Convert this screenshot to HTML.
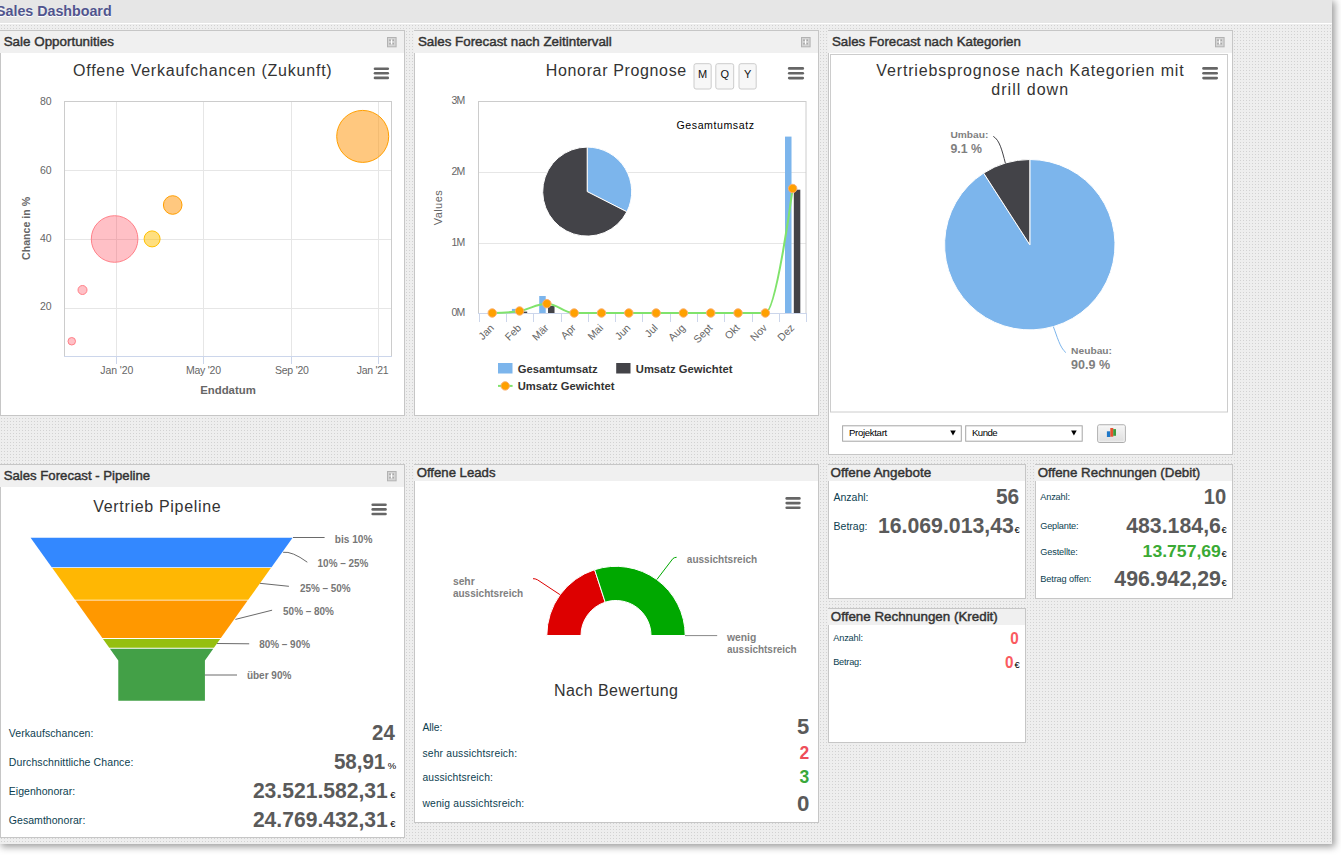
<!DOCTYPE html><html><head><meta charset="utf-8"><title>Sales Dashboard</title><style>
*{margin:0;padding:0;box-sizing:border-box}
html,body{width:1341px;height:859px;overflow:hidden;background:#fff;font-family:"Liberation Sans",sans-serif;}
#wrap{position:absolute;left:0;top:0;width:1332px;height:844px;
 background-color:#eeeeee;
 background-image:radial-gradient(circle at 1.5px 1.5px, #d2d2d2 0.75px, transparent 0.8px);
 background-size:3px 3px;
 box-shadow:2px 2px 7px 1px rgba(0,0,0,0.38);}
#band{position:absolute;left:0;top:0;width:1332px;height:24px;background:#e6e6e6;border-bottom:1px solid #fff}
.panel{position:absolute;background:#fff;border:1px solid #c6c6c6}
.ph{position:absolute;left:-1px;top:0;background:#f0f0f0}
.ico{position:absolute;width:10px;height:10px;border:1px solid #acacac;background:#d0d0d0}
.ico:after{content:"";position:absolute;left:3px;top:1px;width:2px;height:6px;background:#fff}
#ov{position:absolute;left:0;top:0;width:1341px;height:859px;overflow:visible}
</style></head><body><div id="wrap"><div id="band"></div><div class="panel" style="left:0px;top:30px;width:405px;height:386px"><div class="ph" style="width:404px;height:22px"></div></div><div class="panel" style="left:414px;top:30px;width:405px;height:386px"><div class="ph" style="width:404px;height:22px"></div></div><div class="panel" style="left:828px;top:30px;width:405px;height:425px"><div class="ph" style="width:404px;height:22px"></div></div><div class="panel" style="left:0px;top:464px;width:405px;height:374px"><div class="ph" style="width:404px;height:22px"></div></div><div class="panel" style="left:414px;top:464px;width:405px;height:359px"><div class="ph" style="width:404px;height:16px"></div></div><div class="panel" style="left:828px;top:464px;width:198px;height:135px"><div class="ph" style="width:197px;height:16px"></div></div><div class="panel" style="left:1035px;top:464px;width:198px;height:135px"><div class="ph" style="width:197px;height:16px"></div></div><div class="panel" style="left:828px;top:608px;width:198px;height:135px"><div class="ph" style="width:197px;height:16px"></div></div><svg id="ov" width="1341" height="859" font-family="Liberation Sans, sans-serif"><text x="-4.0" y="15.9" font-size="13.9" fill="#50548e" font-weight="bold" textLength="115.6" lengthAdjust="spacingAndGlyphs" style="text-shadow:0 1px 0 #fff">Sales Dashboard</text><rect x="387.5" y="37.5" width="8.6" height="9.3" fill="#d4d4d4" stroke="#b2b2b2"/><rect x="389.2" y="39.4" width="1.6" height="1.6" fill="#a9a9a9"/><rect x="389.2" y="42.9" width="1.6" height="1.6" fill="#a9a9a9"/><rect x="392.4" y="39.4" width="1.6" height="1.6" fill="#a9a9a9"/><rect x="392.4" y="42.9" width="1.6" height="1.6" fill="#a9a9a9"/><rect x="391.0" y="39.6" width="1.1" height="4.6" fill="#ffffff"/><rect x="801.5" y="37.5" width="8.6" height="9.3" fill="#d4d4d4" stroke="#b2b2b2"/><rect x="803.2" y="39.4" width="1.6" height="1.6" fill="#a9a9a9"/><rect x="803.2" y="42.9" width="1.6" height="1.6" fill="#a9a9a9"/><rect x="806.4" y="39.4" width="1.6" height="1.6" fill="#a9a9a9"/><rect x="806.4" y="42.9" width="1.6" height="1.6" fill="#a9a9a9"/><rect x="805.0" y="39.6" width="1.1" height="4.6" fill="#ffffff"/><rect x="1215.5" y="37.5" width="8.6" height="9.3" fill="#d4d4d4" stroke="#b2b2b2"/><rect x="1217.2" y="39.4" width="1.6" height="1.6" fill="#a9a9a9"/><rect x="1217.2" y="42.9" width="1.6" height="1.6" fill="#a9a9a9"/><rect x="1220.4" y="39.4" width="1.6" height="1.6" fill="#a9a9a9"/><rect x="1220.4" y="42.9" width="1.6" height="1.6" fill="#a9a9a9"/><rect x="1219.0" y="39.6" width="1.1" height="4.6" fill="#ffffff"/><rect x="387.5" y="471.5" width="8.6" height="9.3" fill="#d4d4d4" stroke="#b2b2b2"/><rect x="389.2" y="473.4" width="1.6" height="1.6" fill="#a9a9a9"/><rect x="389.2" y="476.9" width="1.6" height="1.6" fill="#a9a9a9"/><rect x="392.4" y="473.4" width="1.6" height="1.6" fill="#a9a9a9"/><rect x="392.4" y="476.9" width="1.6" height="1.6" fill="#a9a9a9"/><rect x="391.0" y="473.6" width="1.1" height="4.6" fill="#ffffff"/><text x="3.7" y="45.5" font-size="13.5" fill="#333" textLength="110.2" lengthAdjust="spacingAndGlyphs" stroke="#333" stroke-width="0.45">Sale Opportunities</text><text x="417.9" y="45.6" font-size="13.5" fill="#333" textLength="193.9" lengthAdjust="spacingAndGlyphs" stroke="#333" stroke-width="0.45">Sales Forecast nach Zeitintervall</text><text x="832" y="45.6" font-size="13.5" fill="#333" textLength="188.9" lengthAdjust="spacingAndGlyphs" stroke="#333" stroke-width="0.45">Sales Forecast nach Kategorien</text><text x="3.7" y="480" font-size="13.5" fill="#333" textLength="146.5" lengthAdjust="spacingAndGlyphs" stroke="#333" stroke-width="0.45">Sales Forecast - Pipeline</text><text x="416.7" y="477.1" font-size="13.5" fill="#333" textLength="78.8" lengthAdjust="spacingAndGlyphs" stroke="#333" stroke-width="0.45">Offene Leads</text><text x="830.6" y="476.5" font-size="13.5" fill="#333" textLength="100.5" lengthAdjust="spacingAndGlyphs" stroke="#333" stroke-width="0.45">Offene Angebote</text><text x="1037.7" y="476.5" font-size="13.5" fill="#333" textLength="162.6" lengthAdjust="spacingAndGlyphs" stroke="#333" stroke-width="0.45">Offene Rechnungen (Debit)</text><text x="830.8" y="620.9" font-size="13.5" fill="#333" textLength="167" lengthAdjust="spacingAndGlyphs" stroke="#333" stroke-width="0.45">Offene Rechnungen (Kredit)</text><line x1="64" y1="170.5" x2="391" y2="170.5" stroke="#e6e6e6" stroke-width="1" /><line x1="64" y1="239.5" x2="391" y2="239.5" stroke="#e6e6e6" stroke-width="1" /><line x1="64" y1="308.5" x2="391" y2="308.5" stroke="#e6e6e6" stroke-width="1" /><line x1="116.5" y1="101" x2="116.5" y2="356" stroke="#e6e6e6" stroke-width="1" /><line x1="116.5" y1="357" x2="116.5" y2="364" stroke="#ccd6eb" stroke-width="1" /><line x1="203.5" y1="101" x2="203.5" y2="356" stroke="#e6e6e6" stroke-width="1" /><line x1="203.5" y1="357" x2="203.5" y2="364" stroke="#ccd6eb" stroke-width="1" /><line x1="291.5" y1="101" x2="291.5" y2="356" stroke="#e6e6e6" stroke-width="1" /><line x1="291.5" y1="357" x2="291.5" y2="364" stroke="#ccd6eb" stroke-width="1" /><line x1="378.5" y1="101" x2="378.5" y2="356" stroke="#e6e6e6" stroke-width="1" /><line x1="378.5" y1="357" x2="378.5" y2="364" stroke="#ccd6eb" stroke-width="1" /><rect x="64.5" y="101.5" width="327" height="255" fill="none" stroke="#cccccc"/><line x1="64" y1="356.5" x2="392" y2="356.5" stroke="#ccd6eb" stroke-width="1" /><text x="51.5" y="104.5" font-size="10.5" fill="#666" text-anchor="end" textLength="11.5" lengthAdjust="spacing" >80</text><text x="51.5" y="173.60000000000002" font-size="10.5" fill="#666" text-anchor="end" textLength="11.5" lengthAdjust="spacing" >60</text><text x="51.5" y="241.60000000000002" font-size="10.5" fill="#666" text-anchor="end" textLength="11.5" lengthAdjust="spacing" >40</text><text x="51.5" y="310.2" font-size="10.5" fill="#666" text-anchor="end" textLength="11.5" lengthAdjust="spacing" >20</text><text x="116.8" y="374.2" font-size="10.5" fill="#666" text-anchor="middle" textLength="33" lengthAdjust="spacing" >Jan '20</text><text x="203.5" y="374.2" font-size="10.5" fill="#666" text-anchor="middle" textLength="35" lengthAdjust="spacing" >May '20</text><text x="291.9" y="374.2" font-size="10.5" fill="#666" text-anchor="middle" textLength="34" lengthAdjust="spacing" >Sep '20</text><text x="388.7" y="374.2" font-size="10.5" fill="#666" text-anchor="end" textLength="32" lengthAdjust="spacing" >Jan '21</text><text x="228" y="393.7" font-size="10.5" fill="#666" font-weight="bold" text-anchor="middle" textLength="55.6" lengthAdjust="spacingAndGlyphs" >Enddatum</text><text x="30.4" y="228.4" font-size="11.5" fill="#666" font-weight="bold" text-anchor="middle" textLength="63" lengthAdjust="spacingAndGlyphs" transform="rotate(-90 30.4 228.4)" >Chance in %</text><text x="73" y="76.1" font-size="16" fill="#333" textLength="258.7" lengthAdjust="spacing" >Offene Verkaufchancen (Zukunft)</text><line x1="375.0" y1="68.7" x2="387.8" y2="68.7" stroke="#666" stroke-width="2.6" stroke-linecap="round"/><line x1="375.0" y1="73.3" x2="387.8" y2="73.3" stroke="#666" stroke-width="2.6" stroke-linecap="round"/><line x1="375.0" y1="77.9" x2="387.8" y2="77.9" stroke="#666" stroke-width="2.6" stroke-linecap="round"/><circle cx="114.6" cy="239" r="23.3" fill="#ff3b4e" stroke="#ff8088" stroke-width="1" fill-opacity="0.32"/><circle cx="82.5" cy="290" r="4.5" fill="#ff3b4e" stroke="#ff8088" stroke-width="1" fill-opacity="0.32"/><circle cx="71.75" cy="341.25" r="3.75" fill="#ff3b4e" stroke="#ff8088" stroke-width="1" fill-opacity="0.32"/><circle cx="152.1" cy="238.9" r="8" fill="#ffc000" stroke="#ffc000" stroke-width="1" fill-opacity="0.5"/><circle cx="172.7" cy="205" r="9.3" fill="#ff9100" stroke="#ff9f00" stroke-width="1" fill-opacity="0.5"/><circle cx="362.7" cy="136.4" r="26" fill="#ff9100" stroke="#ff9f00" stroke-width="1" fill-opacity="0.5"/><text x="545.8" y="75.8" font-size="16" fill="#333" textLength="140.4" lengthAdjust="spacing" >Honorar Prognose</text><rect x="694.0" y="63.7" width="17.200000000000045" height="25.3" rx="2" fill="#f7f7f7" stroke="#cccccc"/><text x="702.6" y="77.9" font-size="11" fill="#111" text-anchor="middle" >M</text><rect x="715.8" y="63.7" width="17.90000000000009" height="25.3" rx="2" fill="#f7f7f7" stroke="#cccccc"/><text x="724.75" y="77.9" font-size="11" fill="#111" text-anchor="middle" >Q</text><rect x="739.0" y="63.7" width="17.200000000000045" height="25.3" rx="2" fill="#f7f7f7" stroke="#cccccc"/><text x="747.6" y="77.9" font-size="11" fill="#111" text-anchor="middle" >Y</text><line x1="789.2" y1="68.4" x2="802.8" y2="68.4" stroke="#666" stroke-width="2.6" stroke-linecap="round"/><line x1="789.2" y1="73.2" x2="802.8" y2="73.2" stroke="#666" stroke-width="2.6" stroke-linecap="round"/><line x1="789.2" y1="78.1" x2="802.8" y2="78.1" stroke="#666" stroke-width="2.6" stroke-linecap="round"/><line x1="478" y1="172.5" x2="806" y2="172.5" stroke="#e6e6e6" stroke-width="1" /><line x1="478" y1="243.5" x2="806" y2="243.5" stroke="#e6e6e6" stroke-width="1" /><rect x="478.5" y="101.5" width="327.5" height="212" fill="none" stroke="#cccccc"/><line x1="478" y1="313.5" x2="807" y2="313.5" stroke="#ccd6eb" stroke-width="1" /><line x1="479.5" y1="314" x2="479.5" y2="322" stroke="#ccd6eb" stroke-width="1" /><line x1="506.5" y1="314" x2="506.5" y2="322" stroke="#ccd6eb" stroke-width="1" /><line x1="533.5" y1="314" x2="533.5" y2="322" stroke="#ccd6eb" stroke-width="1" /><line x1="561.5" y1="314" x2="561.5" y2="322" stroke="#ccd6eb" stroke-width="1" /><line x1="588.5" y1="314" x2="588.5" y2="322" stroke="#ccd6eb" stroke-width="1" /><line x1="615.5" y1="314" x2="615.5" y2="322" stroke="#ccd6eb" stroke-width="1" /><line x1="642.5" y1="314" x2="642.5" y2="322" stroke="#ccd6eb" stroke-width="1" /><line x1="670.5" y1="314" x2="670.5" y2="322" stroke="#ccd6eb" stroke-width="1" /><line x1="697.5" y1="314" x2="697.5" y2="322" stroke="#ccd6eb" stroke-width="1" /><line x1="724.5" y1="314" x2="724.5" y2="322" stroke="#ccd6eb" stroke-width="1" /><line x1="752.5" y1="314" x2="752.5" y2="322" stroke="#ccd6eb" stroke-width="1" /><line x1="779.5" y1="314" x2="779.5" y2="322" stroke="#ccd6eb" stroke-width="1" /><line x1="806.5" y1="314" x2="806.5" y2="322" stroke="#ccd6eb" stroke-width="1" /><text x="465.3" y="104.3" font-size="10.5" fill="#666" text-anchor="end" textLength="13.7" lengthAdjust="spacing" >3M</text><text x="465.3" y="175.4" font-size="10.5" fill="#666" text-anchor="end" textLength="13.7" lengthAdjust="spacing" >2M</text><text x="465.3" y="245.7" font-size="10.5" fill="#666" text-anchor="end" textLength="13.7" lengthAdjust="spacing" >1M</text><text x="465.3" y="316.40000000000003" font-size="10.5" fill="#666" text-anchor="end" textLength="13.7" lengthAdjust="spacing" >0M</text><text x="442" y="207.8" font-size="11" fill="#666" text-anchor="middle" textLength="35" lengthAdjust="spacing" transform="rotate(-90 442 207.8)" >Values</text><path d="M587.20,191.60 L587.20,147.10 A44.5,44.5 0 0 1 626.85,211.80 Z" fill="#7cb5ec" stroke="#fff" stroke-width="1"/><path d="M587.20,191.60 L626.85,211.80 A44.5,44.5 0 1 1 587.20,147.10 Z" fill="#434348" stroke="#fff" stroke-width="1"/><text x="676.5" y="128.9" font-size="10.6" fill="#000" textLength="77.5" lengthAdjust="spacing" >Gesamtumsatz</text><rect x="511.91" y="308.9" width="6.5" height="4.100000000000023" fill="#7cb5ec" /><rect x="520.71" y="311.6" width="6.5" height="1.3999999999999773" fill="#434348" /><rect x="539.22" y="296" width="6.5" height="17" fill="#7cb5ec" /><rect x="548.02" y="306" width="6.5" height="7" fill="#434348" /><rect x="785.01" y="136.6" width="6.5" height="176.4" fill="#7cb5ec" /><rect x="793.81" y="189.7" width="6.5" height="123.30000000000001" fill="#434348" /><path d="M492.25,313.00 C492.25,313.00 508.64,312.86 519.57,311.00 C530.49,309.14 535.95,303.70 546.88,303.70 C557.80,303.70 563.26,313.00 574.19,313.00 C585.11,313.00 590.57,313.00 601.50,313.00 C612.42,313.00 617.88,313.00 628.81,313.00 C639.73,313.00 645.19,313.00 656.12,313.00 C667.04,313.00 672.50,313.00 683.42,313.00 C694.35,313.00 699.81,313.00 710.74,313.00 C721.66,313.00 727.12,313.00 738.05,313.00 C748.97,313.00 754.43,313.00 765.36,313.00 C776.28,313.00 792.66,188.50 792.66,188.50" fill="none" stroke="#80e36c" stroke-width="2"/><circle cx="492.255" cy="313" r="4.2" fill="#ffa000" stroke="#fcae6c" stroke-width="1" /><circle cx="519.565" cy="311" r="4.2" fill="#ffa000" stroke="#fcae6c" stroke-width="1" /><circle cx="546.875" cy="303.7" r="4.2" fill="#ffa000" stroke="#fcae6c" stroke-width="1" /><circle cx="574.1850000000001" cy="313" r="4.2" fill="#ffa000" stroke="#fcae6c" stroke-width="1" /><circle cx="601.495" cy="313" r="4.2" fill="#ffa000" stroke="#fcae6c" stroke-width="1" /><circle cx="628.8050000000001" cy="313" r="4.2" fill="#ffa000" stroke="#fcae6c" stroke-width="1" /><circle cx="656.115" cy="313" r="4.2" fill="#ffa000" stroke="#fcae6c" stroke-width="1" /><circle cx="683.425" cy="313" r="4.2" fill="#ffa000" stroke="#fcae6c" stroke-width="1" /><circle cx="710.735" cy="313" r="4.2" fill="#ffa000" stroke="#fcae6c" stroke-width="1" /><circle cx="738.0450000000001" cy="313" r="4.2" fill="#ffa000" stroke="#fcae6c" stroke-width="1" /><circle cx="765.355" cy="313" r="4.2" fill="#ffa000" stroke="#fcae6c" stroke-width="1" /><circle cx="792.665" cy="188.5" r="4.2" fill="#ffa000" stroke="#fcae6c" stroke-width="1" /><text x="494.655" y="328.5" font-size="10.5" fill="#666" text-anchor="end" transform="rotate(-45 494.655 328.5)" >Jan</text><text x="521.965" y="328.5" font-size="10.5" fill="#666" text-anchor="end" transform="rotate(-45 521.965 328.5)" >Feb</text><text x="549.275" y="328.5" font-size="10.5" fill="#666" text-anchor="end" transform="rotate(-45 549.275 328.5)" >Mär</text><text x="576.585" y="328.5" font-size="10.5" fill="#666" text-anchor="end" transform="rotate(-45 576.585 328.5)" >Apr</text><text x="603.895" y="328.5" font-size="10.5" fill="#666" text-anchor="end" transform="rotate(-45 603.895 328.5)" >Mai</text><text x="631.205" y="328.5" font-size="10.5" fill="#666" text-anchor="end" transform="rotate(-45 631.205 328.5)" >Jun</text><text x="658.515" y="328.5" font-size="10.5" fill="#666" text-anchor="end" transform="rotate(-45 658.515 328.5)" >Jul</text><text x="685.8249999999999" y="328.5" font-size="10.5" fill="#666" text-anchor="end" transform="rotate(-45 685.8249999999999 328.5)" >Aug</text><text x="713.135" y="328.5" font-size="10.5" fill="#666" text-anchor="end" transform="rotate(-45 713.135 328.5)" >Sept</text><text x="740.445" y="328.5" font-size="10.5" fill="#666" text-anchor="end" transform="rotate(-45 740.445 328.5)" >Okt</text><text x="767.755" y="328.5" font-size="10.5" fill="#666" text-anchor="end" transform="rotate(-45 767.755 328.5)" >Nov</text><text x="795.0649999999999" y="328.5" font-size="10.5" fill="#666" text-anchor="end" transform="rotate(-45 795.0649999999999 328.5)" >Dez</text><rect x="498" y="363" width="14.5" height="10.5" fill="#7cb5ec" /><text x="517.7" y="372.5" font-size="10.5" fill="#333" font-weight="bold" textLength="80" lengthAdjust="spacingAndGlyphs" >Gesamtumsatz</text><rect x="616.2" y="363" width="14.3" height="10.5" fill="#434348" /><text x="635.8" y="372.5" font-size="10.5" fill="#333" font-weight="bold" textLength="96.6" lengthAdjust="spacingAndGlyphs" >Umsatz Gewichtet</text><line x1="498" y1="385.9" x2="512.6" y2="385.9" stroke="#80e36c" stroke-width="2" /><circle cx="505.2" cy="385.9" r="4.2" fill="#ffa000" stroke="#fcae6c" stroke-width="1" /><text x="517.7" y="389.5" font-size="10.5" fill="#333" font-weight="bold" textLength="96.7" lengthAdjust="spacingAndGlyphs" >Umsatz Gewichtet</text><rect x="830.5" y="54.5" width="397" height="357.5" fill="none" stroke="#cccccc"/><text x="876.3" y="75.8" font-size="16" fill="#333" textLength="307.4" lengthAdjust="spacing" >Vertriebsprognose nach Kategorien mit</text><text x="991.3" y="94.9" font-size="16" fill="#333" textLength="76.8" lengthAdjust="spacing" >drill down</text><line x1="1203.5" y1="68.4" x2="1216.7" y2="68.4" stroke="#666" stroke-width="2.6" stroke-linecap="round"/><line x1="1203.5" y1="73.3" x2="1216.7" y2="73.3" stroke="#666" stroke-width="2.6" stroke-linecap="round"/><line x1="1203.5" y1="78.1" x2="1216.7" y2="78.1" stroke="#666" stroke-width="2.6" stroke-linecap="round"/><path d="M1029.80,244.70 L1029.80,159.50 A85.2,85.2 0 1 1 983.65,173.08 Z" fill="#7cb5ec" stroke="#fff" stroke-width="1"/><path d="M1029.80,244.70 L983.65,173.08 A85.2,85.2 0 0 1 1029.80,159.50 Z" fill="#434348" stroke="#fff" stroke-width="1"/><path d="M1005.4,163.3 C1002,150 999.5,140 993.3,136.4" fill="none" stroke="#434348" stroke-width="1"/><path d="M1053.3,326.6 C1057,336 1060,348 1065.9,352.6" fill="none" stroke="#7cb5ec" stroke-width="1"/><text x="950.4" y="137.8" font-size="9.9" fill="#7f7f7f" font-weight="bold" textLength="37.9" lengthAdjust="spacingAndGlyphs" >Umbau:</text><text x="950.4" y="152.9" font-size="12.2" fill="#7f7f7f" font-weight="bold" textLength="31.5" lengthAdjust="spacingAndGlyphs" >9.1 %</text><text x="1071.1" y="353.9" font-size="9.9" fill="#7f7f7f" font-weight="bold" textLength="40.9" lengthAdjust="spacingAndGlyphs" >Neubau:</text><text x="1071.1" y="368.9" font-size="12.2" fill="#7f7f7f" font-weight="bold" textLength="39.1" lengthAdjust="spacingAndGlyphs" >90.9 %</text><rect x="842.6" y="425.8" width="118.69999999999993" height="15.4" fill="#fff" stroke="#a6a6a6"/><text x="848.9" y="436" font-size="9.6" fill="#000" textLength="38.3" lengthAdjust="spacing" >Projektart</text><path d="M950.2,430.4 L955.8,430.4 L953.0,435.4 Z" fill="#000"/><rect x="965.7" y="425.8" width="116.5" height="15.4" fill="#fff" stroke="#a6a6a6"/><text x="972.0" y="436" font-size="9.6" fill="#000" textLength="25.6" lengthAdjust="spacing" >Kunde</text><path d="M1071.1000000000001,430.4 L1076.7,430.4 L1073.9,435.4 Z" fill="#000"/><defs><linearGradient id="bg1" x1="0" y1="0" x2="0" y2="1"><stop offset="0" stop-color="#f6f6f6"/><stop offset="1" stop-color="#dedede"/></linearGradient></defs><rect x="1097.8" y="424.9" width="27.4" height="17.4" rx="1.5" fill="url(#bg1)" stroke="#9a9a9a"/><rect x="1098.8" y="425.9" width="25.4" height="15.4" fill="none" stroke="#fafafa" stroke-width="0.8"/><rect x="1106.9" y="431.3" width="3.4" height="5.7" fill="#1f78c8" /><rect x="1110.3" y="428" width="3" height="8.7" fill="#e4532f" /><rect x="1113.2" y="429.1" width="2.8" height="6.7" fill="#3d9b3d" /><text x="93.2" y="511.5" font-size="16" fill="#333" textLength="127.5" lengthAdjust="spacing" >Vertrieb Pipeline</text><line x1="372.7" y1="504.8" x2="385.5" y2="504.8" stroke="#666" stroke-width="2.6" stroke-linecap="round"/><line x1="372.7" y1="509.4" x2="385.5" y2="509.4" stroke="#666" stroke-width="2.6" stroke-linecap="round"/><line x1="372.7" y1="514" x2="385.5" y2="514" stroke="#666" stroke-width="2.6" stroke-linecap="round"/><polygon points="30.60,537.7 292.60,537.7 271.52,567.2 51.68,567.2" fill="#3388ff"/><polygon points="52.32,568.1 270.88,568.1 248.22,599.8 74.98,599.8" fill="#ffb703"/><polygon points="75.55,600.6 247.65,600.6 220.85,638.1 102.35,638.1" fill="#ff9800"/><polygon points="102.99,639.0 220.21,639.0 213.92,647.8 109.28,647.8" fill="#95bf10"/><polygon points="109.92,648.7 213.28,648.7 204.92,660.4 204.92,700.7 118.28,700.7 118.28,660.4" fill="#43a047"/><line x1="293" y1="537.5" x2="324.6" y2="537.5" stroke="#6a6a6a" stroke-width="1" /><path d="M283.1,552.3 Q292,551 307.3,562.2" fill="none" stroke="#6a6a6a" stroke-width="1"/><line x1="259.9" y1="583.3" x2="288.9" y2="586.3" stroke="#6a6a6a" stroke-width="1" /><line x1="235.4" y1="619.4" x2="272.1" y2="610.2" stroke="#6a6a6a" stroke-width="1" /><line x1="217" y1="643.5" x2="249.2" y2="643.8" stroke="#6a6a6a" stroke-width="1" /><line x1="204.8" y1="675" x2="237" y2="675" stroke="#6a6a6a" stroke-width="1" /><text x="334.8" y="542.7" font-size="10" fill="#777" font-weight="bold" textLength="37.7" lengthAdjust="spacingAndGlyphs" >bis 10%</text><text x="317.6" y="566.5" font-size="10" fill="#777" font-weight="bold" textLength="50.8" lengthAdjust="spacingAndGlyphs" >10% – 25%</text><text x="299.9" y="591.6" font-size="10" fill="#777" font-weight="bold" textLength="50.8" lengthAdjust="spacingAndGlyphs" >25% – 50%</text><text x="283.1" y="615.4" font-size="10" fill="#777" font-weight="bold" textLength="50.8" lengthAdjust="spacingAndGlyphs" >50% – 80%</text><text x="259.2" y="648.4" font-size="10" fill="#777" font-weight="bold" textLength="50.8" lengthAdjust="spacingAndGlyphs" >80% – 90%</text><text x="246.9" y="679.4" font-size="10" fill="#777" font-weight="bold" textLength="44.5" lengthAdjust="spacingAndGlyphs" >über 90%</text><text x="8.8" y="736.7" font-size="10.5" fill="#0b3e50" textLength="84.6" lengthAdjust="spacing" >Verkaufschancen:</text><text x="8.8" y="765.6" font-size="10.5" fill="#0b3e50" textLength="124.5" lengthAdjust="spacing" >Durchschnittliche Chance:</text><text x="8.8" y="794.8" font-size="10.5" fill="#0b3e50" textLength="66.3" lengthAdjust="spacing" >Eigenhonorar:</text><text x="8.8" y="823.5" font-size="10.5" fill="#0b3e50" textLength="76.5" lengthAdjust="spacing" >Gesamthonorar:</text><text x="394.8" y="739.9" font-size="22" fill="#5a5a5a" font-weight="bold" text-anchor="end" textLength="22.7" lengthAdjust="spacingAndGlyphs" >24</text><text x="385.3" y="768.8" font-size="21.3" fill="#5a5a5a" font-weight="bold" text-anchor="end" textLength="51.4" lengthAdjust="spacingAndGlyphs" >58,91</text><text x="387.8" y="768.8" font-size="9.5" fill="#000" textLength="7.2" lengthAdjust="spacing" >%</text><text x="387.8" y="797.7" font-size="21.8" fill="#5a5a5a" font-weight="bold" text-anchor="end" textLength="134.9" lengthAdjust="spacingAndGlyphs" >23.521.582,31</text><text x="390.2" y="797.7" font-size="9.4" fill="#000" textLength="4.8" lengthAdjust="spacing" >€</text><text x="387.8" y="826.8" font-size="21.8" fill="#5a5a5a" font-weight="bold" text-anchor="end" textLength="134.9" lengthAdjust="spacingAndGlyphs" >24.769.432,31</text><text x="390.2" y="826.8" font-size="9.4" fill="#000" textLength="4.8" lengthAdjust="spacing" >€</text><line x1="786.7" y1="498.4" x2="799.4" y2="498.4" stroke="#666" stroke-width="2.6" stroke-linecap="round"/><line x1="786.7" y1="503.1" x2="799.4" y2="503.1" stroke="#666" stroke-width="2.6" stroke-linecap="round"/><line x1="786.7" y1="507.8" x2="799.4" y2="507.8" stroke="#666" stroke-width="2.6" stroke-linecap="round"/><path d="M546.80,635.50 A69.2,69.2 0 0 1 594.62,569.69 L605.18,602.21 A35,35 0 0 0 581.00,635.50 Z" fill="#dd0000" stroke="#fff" stroke-width="1"/><path d="M594.62,569.69 A69.2,69.2 0 0 1 685.20,635.50 L651.00,635.50 A35,35 0 0 0 605.18,602.21 Z" fill="#00a800" stroke="#fff" stroke-width="1"/><path d="M559.9,594.6 L537.5,579.8 Q535,578.5 533,578.7" fill="none" stroke="#dd0000" stroke-width="1"/><path d="M656.9,579.5 L672.9,558.6 Q674.5,557.3 676.6,557.3" fill="none" stroke="#00a800" stroke-width="1"/><line x1="685" y1="635.6" x2="717.2" y2="635.6" stroke="#888" stroke-width="1" /><text x="452.9" y="584.8" font-size="11" fill="#7f7f7f" font-weight="bold" textLength="21.8" lengthAdjust="spacingAndGlyphs" >sehr</text><text x="452.9" y="596.6" font-size="11" fill="#7f7f7f" font-weight="bold" textLength="70.3" lengthAdjust="spacingAndGlyphs" >aussichtsreich</text><text x="686.8" y="562.7" font-size="11" fill="#7f7f7f" font-weight="bold" textLength="70.4" lengthAdjust="spacingAndGlyphs" >aussichtsreich</text><text x="727" y="640.9" font-size="11" fill="#7f7f7f" font-weight="bold" textLength="29.3" lengthAdjust="spacingAndGlyphs" >wenig</text><text x="727" y="653.4" font-size="11" fill="#7f7f7f" font-weight="bold" textLength="69.7" lengthAdjust="spacingAndGlyphs" >aussichtsreich</text><text x="553.9" y="695.8" font-size="16" fill="#333" textLength="124.1" lengthAdjust="spacing" >Nach Bewertung</text><text x="422.4" y="730.6" font-size="10.3" fill="#0b3e50" textLength="20" lengthAdjust="spacing" >Alle:</text><text x="422.4" y="756.6" font-size="10.3" fill="#0b3e50" textLength="94.6" lengthAdjust="spacing" >sehr aussichtsreich:</text><text x="422.4" y="780.5" font-size="10.3" fill="#0b3e50" textLength="70.5" lengthAdjust="spacing" >aussichtsreich:</text><text x="422.4" y="807.2" font-size="10.3" fill="#0b3e50" textLength="101.8" lengthAdjust="spacing" >wenig aussichtsreich:</text><text x="809.3" y="733.6" font-size="22" fill="#5a5a5a" font-weight="bold" text-anchor="end" >5</text><text x="809.3" y="759.3" font-size="17.5" fill="#ee4e5a" font-weight="bold" text-anchor="end" >2</text><text x="809.3" y="782.7" font-size="17.5" fill="#3aa83a" font-weight="bold" text-anchor="end" >3</text><text x="809.3" y="810.9" font-size="22.3" fill="#5a5a5a" font-weight="bold" text-anchor="end" >0</text><text x="833.5" y="501.1" font-size="10.5" fill="#0b3e50" textLength="35" lengthAdjust="spacing" >Anzahl:</text><text x="1019.2" y="504.1" font-size="21.5" fill="#5a5a5a" font-weight="bold" text-anchor="end" textLength="23.2" lengthAdjust="spacingAndGlyphs" >56</text><text x="833.5" y="529.7" font-size="10.5" fill="#0b3e50" textLength="34" lengthAdjust="spacing" >Betrag:</text><text x="1013.9" y="533.2" font-size="22" fill="#5a5a5a" font-weight="bold" text-anchor="end" textLength="136" lengthAdjust="spacingAndGlyphs" >16.069.013,43</text><text x="1014.6" y="533.1" font-size="9.4" fill="#000" textLength="4.8" lengthAdjust="spacing" >€</text><text x="1040.2" y="500.2" font-size="9.2" fill="#0b3e50" textLength="29.8" lengthAdjust="spacing" >Anzahl:</text><text x="1226.2" y="504.1" font-size="21.5" fill="#5a5a5a" font-weight="bold" text-anchor="end" textLength="22.4" lengthAdjust="spacingAndGlyphs" >10</text><text x="1040.2" y="529" font-size="9.2" fill="#0b3e50" textLength="38.3" lengthAdjust="spacing" >Geplante:</text><text x="1220.9" y="533.2" font-size="22" fill="#5a5a5a" font-weight="bold" text-anchor="end" textLength="94.7" lengthAdjust="spacingAndGlyphs" >483.184,6</text><text x="1221.6" y="533.1" font-size="9.4" fill="#000" textLength="4.8" lengthAdjust="spacing" >€</text><text x="1040.2" y="555.1" font-size="9.2" fill="#0b3e50" textLength="37.6" lengthAdjust="spacing" >Gestellte:</text><text x="1220.9" y="557.3" font-size="16.6" fill="#3aaa35" font-weight="bold" text-anchor="end" textLength="78.3" lengthAdjust="spacingAndGlyphs" >13.757,69</text><text x="1221.6" y="557.2" font-size="9.4" fill="#000" textLength="4.8" lengthAdjust="spacing" >€</text><text x="1040.2" y="581.6" font-size="9.2" fill="#0b3e50" textLength="51" lengthAdjust="spacing" >Betrag offen:</text><text x="1220.9" y="585.7" font-size="22" fill="#5a5a5a" font-weight="bold" text-anchor="end" textLength="106.6" lengthAdjust="spacingAndGlyphs" >496.942,29</text><text x="1221.6" y="585.6" font-size="9.4" fill="#000" textLength="4.8" lengthAdjust="spacing" >€</text><text x="833.2" y="640.7" font-size="9.2" fill="#0b3e50" textLength="29.8" lengthAdjust="spacing" >Anzahl:</text><text x="1018.7" y="643.6" font-size="17" fill="#fa5a60" font-weight="bold" text-anchor="end" textLength="8.5" lengthAdjust="spacingAndGlyphs" >0</text><text x="833.2" y="665.3" font-size="9.2" fill="#0b3e50" textLength="28.3" lengthAdjust="spacing" >Betrag:</text><text x="1013.5" y="667.8" font-size="17" fill="#fa5a60" font-weight="bold" text-anchor="end" textLength="8.5" lengthAdjust="spacingAndGlyphs" >0</text><text x="1014.6" y="667.7" font-size="9.4" fill="#000" textLength="4.2" lengthAdjust="spacing" >€</text></svg></div></body></html>
